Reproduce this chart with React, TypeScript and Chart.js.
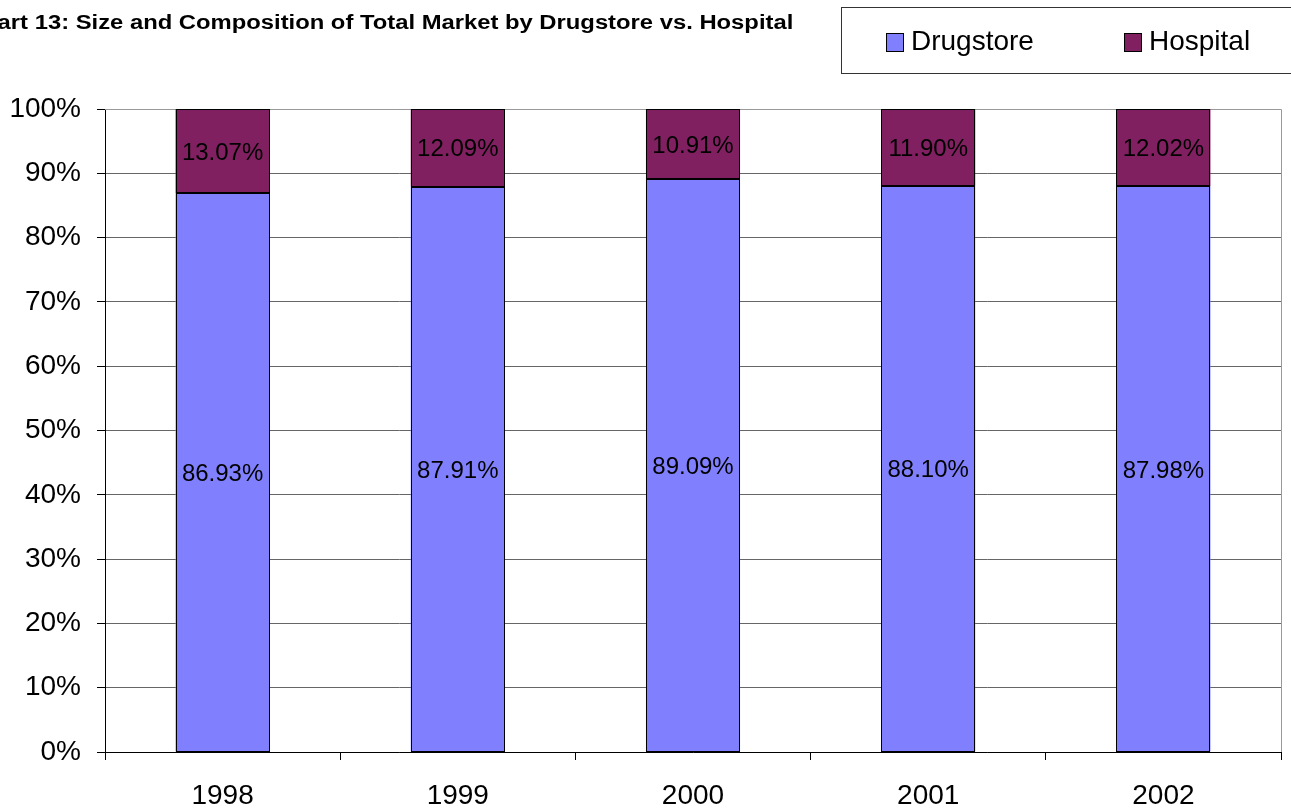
import React, { useEffect, useRef } from "react";
import { Chart, registerables } from "chart.js";

Chart.register(...registerables);

const categories = ["1998", "1999", "2000", "2001", "2002"];
const drugstore = [86.93, 87.91, 89.09, 88.1, 87.98];
const hospital = [13.07, 12.09, 10.91, 11.9, 12.02];
const yTicks = [0, 10, 20, 30, 40, 50, 60, 70, 80, 90, 100];

const FONT = '"Liberation Sans", Arial, sans-serif';
const DRUG_COLOR = "#8080FF";
const HOSP_COLOR = "#802060";

const barOutlines = {
  id: "barOutlines",
  afterDatasetsDraw(chart: any) {
    const ctx = chart.ctx;
    ctx.save();
    ctx.strokeStyle = "#000";
    ctx.lineWidth = 1;
    chart.data.datasets.forEach((_ds: any, i: number) => {
      const meta = chart.getDatasetMeta(i);
      meta.data.forEach((el: any) => {
        const l = Math.round(el.x - el.width / 2) + 0.5;
        const r = Math.round(el.x + el.width / 2) - 0.5;
        const t = Math.round(Math.min(el.y, el.base)) + 0.5;
        const b = Math.round(Math.max(el.y, el.base)) - 0.5;
        ctx.strokeRect(l, t, r - l, b - t);
      });
    });
    ctx.restore();
  },
};

const valueLabels = {
  id: "valueLabels",
  afterDatasetsDraw(chart: any) {
    const ctx = chart.ctx;
    ctx.save();
    ctx.font = `24px ${FONT}`;
    ctx.fillStyle = "#000";
    ctx.textAlign = "center";
    ctx.textBaseline = "middle";
    chart.data.datasets.forEach((ds: any, i: number) => {
      const meta = chart.getDatasetMeta(i);
      meta.data.forEach((el: any, j: number) => {
        const v = ds.data[j] as number;
        const y = (el.y + el.base) / 2 + 2;
        ctx.fillText(v.toFixed(2) + "%", el.x, y);
      });
    });
    ctx.restore();
  },
};

const plotBorder = {
  id: "plotBorder",
  beforeDatasetsDraw(chart: any) {
    const { ctx, chartArea } = chart;
    ctx.save();
    ctx.strokeStyle = "#999";
    ctx.lineWidth = 1;
    ctx.beginPath();
    ctx.moveTo(chartArea.left, Math.round(chartArea.top) + 0.5);
    ctx.lineTo(Math.round(chartArea.right) + 0.5, Math.round(chartArea.top) + 0.5);
    ctx.lineTo(Math.round(chartArea.right) + 0.5, chartArea.bottom);
    ctx.stroke();
    ctx.restore();
  },
};

export default function App() {
  const ref = useRef<HTMLCanvasElement>(null);

  useEffect(() => {
    if (!ref.current) return;
    const chart = new Chart(ref.current, {
      type: "bar",
      data: {
        labels: categories,
        datasets: [
          {
            label: "Drugstore",
            data: drugstore,
            backgroundColor: DRUG_COLOR,
            borderWidth: 0,
          },
          {
            label: "Hospital",
            data: hospital,
            backgroundColor: HOSP_COLOR,
            borderWidth: 0,
          },
        ],
      },
      options: {
        responsive: false,
        animation: false,
        layout: { padding: { top: 109, right: 10, left: 0, bottom: 0 } },
        plugins: {
          legend: { display: false },
          title: { display: false },
          tooltip: { enabled: false },
        },
        datasets: {
          bar: { categoryPercentage: 1, barPercentage: 0.4, inflateAmount: 0 },
        },
        scales: {
          x: {
            stacked: true,
            offset: true,
            grid: {
              offset: true,
              drawOnChartArea: false,
              drawTicks: true,
              tickLength: 8,
              tickColor: "#000",
            },
            border: { color: "#000", width: 1 },
            ticks: {
              font: { family: FONT, size: 28 },
              color: "#000",
              padding: 19,
              maxRotation: 0,
            },
            afterFit(scale: any) {
              scale.height = 56;
            },
          },
          y: {
            stacked: true,
            min: 0,
            max: 100,
            afterBuildTicks(scale: any) {
              scale.ticks = yTicks.map((v) => ({ value: v }));
            },
            grid: {
              color: "#666",
              drawTicks: true,
              tickLength: 8,
              tickColor: "#000",
            },
            border: { color: "#000", width: 1 },
            ticks: {
              font: { family: FONT, size: 28 },
              color: "#000",
              padding: 16,
              callback: (v: any) => v + "%",
            },
            afterFit(scale: any) {
              scale.width = 105;
            },
          },
        },
      },
      plugins: [plotBorder, barOutlines, valueLabels],
    });
    return () => chart.destroy();
  }, []);

  const legendText: React.CSSProperties = {
    position: "absolute",
    top: 22,
    fontFamily: FONT,
    fontSize: 28,
    lineHeight: "38px",
    color: "#000",
    whiteSpace: "nowrap",
  };
  const swatch = (left: number, color: string): React.CSSProperties => ({
    position: "absolute",
    left,
    top: 33,
    width: 16,
    height: 17,
    background: color,
    border: "1px solid #000",
  });

  return (
    <div
      style={{
        position: "fixed",
        left: 0,
        top: 0,
        width: 1291,
        height: 808,
        overflow: "hidden",
        background: "#fff",
      }}
    >
      <canvas ref={ref} width={1291} height={808} style={{ display: "block" }} />
      <div
        style={{
          position: "absolute",
          right: 1291 - 793,
          top: 12,
          fontFamily: FONT,
          fontWeight: "bold",
          fontSize: 20,
          lineHeight: "20px",
          whiteSpace: "nowrap",
          color: "#000",
          transform: "scaleX(1.19)",
          transformOrigin: "right center",
        }}
      >
        Chart 13: Size and Composition of Total Market by Drugstore vs. Hospital
      </div>
      <div
        style={{
          position: "absolute",
          left: 841,
          top: 7,
          width: 470,
          height: 67,
          border: "1px solid #333",
          boxSizing: "border-box",
        }}
      />
      <div style={swatch(886, DRUG_COLOR)} />
      <div style={{ ...legendText, left: 911 }}>Drugstore</div>
      <div style={swatch(1124, HOSP_COLOR)} />
      <div style={{ ...legendText, left: 1149 }}>Hospital</div>
    </div>
  );
}
